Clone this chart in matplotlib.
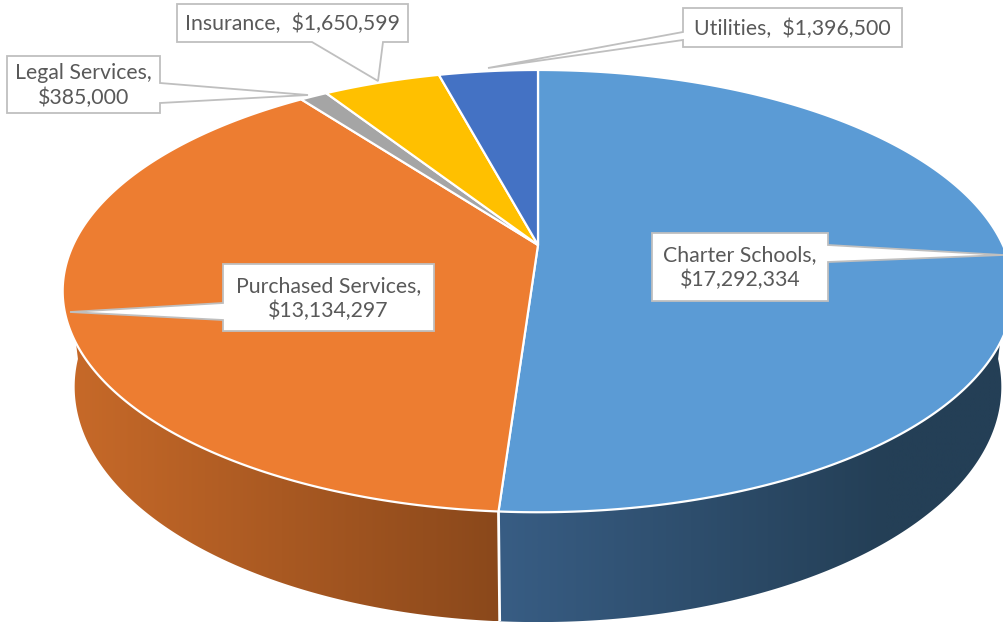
import numpy as np
import matplotlib
matplotlib.use("Agg")
import matplotlib.pyplot as plt
from matplotlib.patches import Polygon
from matplotlib.colors import to_rgb

# ---- data ----
categories = ["Charter Schools", "Purchased Services", "Legal Services", "Insurance", "Utilities"]
values = [17292334, 13134297, 385000, 1650599, 1396500]
label_texts = ["Charter Schools,\n$17,292,334", "Purchased Services,\n$13,134,297",
               "Legal Services,\n$385,000", "Insurance,  $1,650,599", "Utilities,  $1,396,500"]
top_colors = ["#5B9BD5", "#ED7D31", "#A5A5A5", "#FFC000", "#4472C4"]
side_grad = {0: ("#385D84", "#243F56"), 1: ("#C86A29", "#8A481B")}

# ---- projection parameters (pixel space) ----
CX, CY = 538, 245
K, D = 1985.0, 4.27
elev = np.arcsin(0.455)
C, S = np.cos(elev), np.sin(elev)
H = 0.2326

def proj(phi_deg, r=1.0, z=0.0):
    phi = np.radians(np.asarray(phi_deg, dtype=float))
    X = r * np.sin(phi)
    Y = r * np.cos(phi)
    depth = D + Y * C - z * S
    sx = CX + K * X / depth
    sy = CY - K * (Y * S + z * C) / depth
    return sx, sy

fig = plt.figure(figsize=(10.04, 6.24), dpi=100)
ax = fig.add_axes([0, 0, 1, 1])
ax.set_xlim(0, 1004)
ax.set_ylim(624, 0)
ax.axis("off")

total = float(sum(values))
angles = np.concatenate([[0], np.cumsum(values) / total * 360.0])

# ---- sides (front visible part) ----
vis_lo, vis_hi = 95.0, 265.0
for i in range(len(values)):
    a0, a1 = max(angles[i], vis_lo), min(angles[i + 1], vis_hi)
    if a1 <= a0:
        continue
    ph = np.linspace(a0, a1, 200)
    tx, ty = proj(ph, z=0)
    bx, by = proj(ph, z=-H)
    xs = np.concatenate([tx, bx[::-1]])
    ys = np.concatenate([ty, by[::-1]])
    poly = Polygon(np.column_stack([xs, ys]), closed=True, facecolor="none", edgecolor="none")
    ax.add_patch(poly)
    c0, c1 = side_grad.get(i, (top_colors[i], top_colors[i]))
    x0, x1 = xs.min(), xs.max()
    n = 256
    t = np.linspace(0, 1, n)[:, None]
    if i == 0:
        t = np.clip(t / 0.75, 0, 1)
    grad = (1 - t) * np.array(to_rgb(c0)) + t * np.array(to_rgb(c1))
    im = ax.imshow(grad[None, :, :], extent=[x0, x1, ys.max(), ys.min()], aspect="auto",
                   interpolation="bilinear", zorder=1)
    im.set_clip_path(poly)

# boundary line on the side
for a in angles[1:-1]:
    if vis_lo < a < vis_hi:
        tx, ty = proj(a, z=0)
        bx, by = proj(a, z=-H)
        ax.plot([tx, bx], [ty, by], color="white", lw=2, zorder=2, solid_capstyle="butt")

# ---- top faces ----
for i in range(len(values)):
    ph = np.linspace(angles[i], angles[i + 1], 300)
    tx, ty = proj(ph)
    xs = np.concatenate([[CX], tx])
    ys = np.concatenate([[CY], ty])
    ax.add_patch(Polygon(np.column_stack([xs, ys]), closed=True, facecolor=top_colors[i],
                         edgecolor="white", lw=1.6, joinstyle="round", zorder=3))

# ---- callouts ----
def callout(box, side, w0, w1, tip, text):
    x0, y0, x1, y1 = box
    if side == "right":
        pts = [(x0, y0), (x1, y0), (x1, w0), tip, (x1, w1), (x1, y1), (x0, y1)]
    elif side == "left":
        pts = [(x0, y0), (x1, y0), (x1, y1), (x0, y1), (x0, w1), tip, (x0, w0)]
    elif side == "bottom":
        pts = [(x0, y0), (x1, y0), (x1, y1), (w1, y1), tip, (w0, y1), (x0, y1)]
    ax.add_patch(Polygon(pts, closed=True, facecolor="white", edgecolor="#BFBFBF",
                         lw=1.3, joinstyle="miter", zorder=5))
    ax.text((x0 + x1) / 2, (y0 + y1) / 2 + 1, text, ha="center", va="center",
            fontsize=15.3, color="#595959", family=["Lato", "DejaVu Sans"],
            linespacing=1.28, zorder=6)

callout((652, 233, 828, 301), "right", 245, 262, (1003, 255), label_texts[0])
callout((223, 264, 434, 331), "left", 303, 320, (70, 312), label_texts[1])
callout((7, 56, 160, 113), "right", 83, 103, (308, 95), label_texts[2])
callout((177, 4, 408, 42), "bottom", 312, 383, (378, 81), label_texts[3])
callout((683, 8, 902, 47), "left", 32, 40, (488, 68), label_texts[4])

fig.savefig("out.png", dpi=100)
